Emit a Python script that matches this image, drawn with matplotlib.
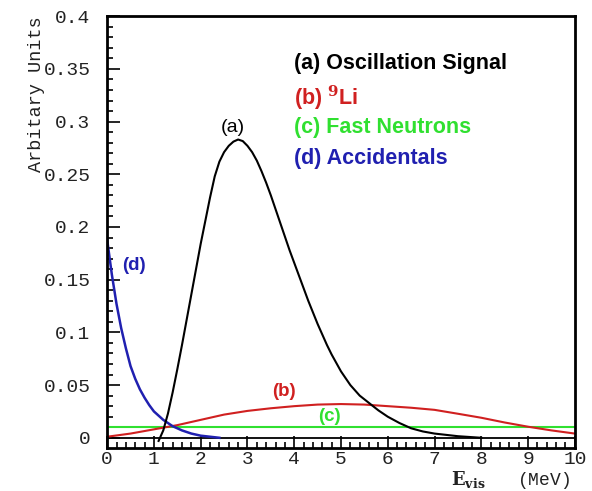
import numpy as np
import matplotlib.pyplot as plt

plt.rcParams['mathtext.fontset'] = 'dejavuserif'

# (a) oscillation signal
sig_x = [1.1, 1.2, 1.3, 1.4, 1.5, 1.6, 1.7, 1.8, 1.9, 2.0, 2.1, 2.2, 2.3, 2.4,
         2.5, 2.6, 2.7, 2.8, 2.9, 3.0, 3.1, 3.2, 3.3, 3.4, 3.5, 3.6, 3.7,
         3.8, 3.9, 4.0, 4.1, 4.2, 4.3, 4.4, 4.5, 4.6, 4.7, 4.8, 4.9, 5.0, 5.2,
         5.4, 5.6, 5.8, 6.0, 6.25, 6.5, 6.75, 7.0, 7.5, 8.0]
sig_y = [-0.003, 0.007, 0.023, 0.043, 0.065, 0.088, 0.112, 0.136, 0.160, 0.184,
         0.206, 0.228, 0.248, 0.262, 0.271, 0.277, 0.281, 0.283, 0.2815, 0.277,
         0.271, 0.263, 0.253, 0.242, 0.230, 0.217, 0.204, 0.191, 0.178, 0.166,
         0.154, 0.142, 0.130, 0.119, 0.108, 0.098, 0.088, 0.079, 0.071, 0.063,
         0.050, 0.040, 0.033, 0.026, 0.020, 0.014, 0.009, 0.006, 0.004, 0.0015,
         0.0]

# (b) 9Li
li_x = [0, 0.5, 1, 1.5, 2, 2.5, 3, 3.5, 4, 4.5, 5, 5.5, 6, 6.5, 7, 7.5, 8,
        8.5, 9, 9.5, 10]
li_y = [0.001, 0.004, 0.008, 0.012, 0.017, 0.022, 0.0255, 0.028, 0.030, 0.0315,
        0.032, 0.0315, 0.030, 0.0285, 0.0265, 0.0228, 0.019, 0.0145, 0.0105,
        0.007, 0.004]

# (c) fast neutrons
fn_x = [0, 10]
fn_y = [0.01, 0.01]

# (d) accidentals
acc_x = [0, 0.1, 0.2, 0.3, 0.4, 0.5, 0.6, 0.7, 0.8, 0.9, 1.0, 1.1, 1.2, 1.3,
         1.4, 1.6, 1.8, 2.0, 2.2, 2.4]
acc_y = [0.188, 0.155, 0.127, 0.104, 0.085, 0.068, 0.056, 0.046, 0.038, 0.031,
         0.025, 0.021, 0.017, 0.014, 0.011, 0.007, 0.004, 0.002, 0.001, 0.0]

legend_labels = ['(a) Oscillation Signal', '(b) $^{\\mathbf{9}}$Li',
                 '(c) Fast Neutrons', '(d) Accidentals']
colors = ['black', '#d02020', '#30e030', '#2020b0']

fig = plt.figure(figsize=(5.92, 4.91), dpi=100)
ax = fig.add_axes([0.181, 0.088, 0.79, 0.879])

ax.axhline(0, color='black', lw=1.3)
ax.plot(fn_x, fn_y, color=colors[2], lw=1.5)
ax.plot(li_x, li_y, color=colors[1], lw=1.5)
ax.plot(acc_x, acc_y, color=colors[3], lw=1.8)
ax.plot(sig_x, sig_y, color=colors[0], lw=1.5)

ax.set_xlim(0, 10)
ax.set_ylim(-0.0095, 0.4)
ax.set_xticks(np.arange(0, 11, 1))
ax.set_xticks(np.arange(0, 10.01, 0.2), minor=True)
ax.set_yticks(np.arange(0, 0.41, 0.05))
ax.set_yticks(np.arange(0, 0.401, 0.01), minor=True)
ax.set_yticklabels(['0', '0.05', '0.1', '0.15', '0.2', '0.25', '0.3', '0.35', '0.4'])
ax.tick_params(which='both', direction='in', top=False, right=False, width=1.2)
ax.tick_params(which='major', length=9)
ax.tick_params(which='minor', length=4)
ax.tick_params(axis='y', pad=12)
ax.tick_params(axis='x', pad=2)
for lab in ax.get_xticklabels() + ax.get_yticklabels():
    lab.set_family('Liberation Mono')
    lab.set_fontsize(14)
    lab.set_color('#222222')
for s in ax.spines.values():
    s.set_linewidth(2)

ax.set_ylabel('Arbitary Units', family='Liberation Mono', fontsize=13.3,
              loc='top', labelpad=-1, color='#222222')
ax.set_xlabel(r'$\mathbf{E_{vis}}$   (MeV)', family='Liberation Mono',
              fontsize=13, color='#222222', ha='right', va='top')
ax.xaxis.set_label_coords(0.99, -0.05)

# curve tags
ax.text(2.69, 0.294, '(a)', color='black', fontsize=14, ha='center', va='center',
        family='Liberation Sans')
ax.text(3.79, 0.0437, '(b)', color=colors[1], fontsize=13.5, ha='center',
        va='center', family='Liberation Sans', weight='bold')
ax.text(4.75, 0.020, '(c)', color=colors[2], fontsize=13.5, ha='center',
        va='center', family='Liberation Sans', weight='bold')
ax.text(0.58, 0.163, '(d)', color=colors[3], fontsize=13.5, ha='center',
        va='center', family='Liberation Sans', weight='bold')

leg_y = [0.355, 0.323, 0.294, 0.265]
for lbl, c, yy in zip(legend_labels, colors, leg_y):
    ax.text(4.0, yy, lbl, color=c, fontsize=15.5, ha='left', va='center',
            family='Liberation Sans', weight='bold')

fig.savefig('out.png', dpi=100)
